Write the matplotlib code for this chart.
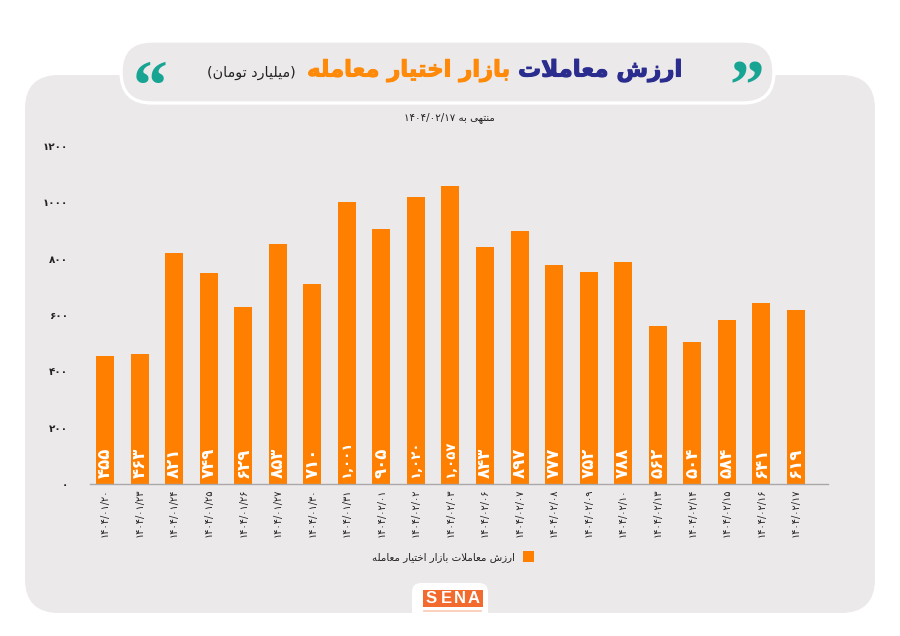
import matplotlib
matplotlib.use("Agg")
import matplotlib.pyplot as plt
import matplotlib.patheffects as pe
from matplotlib.patches import FancyBboxPatch, Rectangle

# Chart data
dates = ["1404/01/20", "1404/01/23", "1404/01/24", "1404/01/25", "1404/01/26", "1404/01/27", "1404/01/30",
         "1404/01/31", "1404/02/01", "1404/02/02", "1404/02/03", "1404/02/06", "1404/02/07", "1404/02/08",
         "1404/02/09", "1404/02/10", "1404/02/13", "1404/02/14", "1404/02/15", "1404/02/16", "1404/02/17"]
values = [455, 463, 821, 749, 629, 853, 710, 1001, 905, 1020, 1057, 843, 897, 777, 752, 788, 562, 504, 584, 641, 619]
y_ticks = [0, 200, 400, 600, 800, 1000, 1200]

title_navy = "ارزش معاملات"
title_orange = "بازار اختیار معامله"
title_unit = "(میلیارد تومان)"
subtitle_prefix = "منتهی به"
subtitle_date = "1404/02/17"
legend_label = "ارزش معاملات بازار اختیار معامله"

ORANGE = "#ff8000"
TITLE_ORANGE = "#ff8a0a"
NAVY = "#2b2d8e"
TEAL = "#17a493"
PANEL = "#ebe9ea"
INK = "#222222"

# Contextual forms: isolated, final, initial, medial
FORMS = {
    "ا": "\uFE8D\uFE8E", "ب": "\uFE8F\uFE90\uFE91\uFE92", "ت": "\uFE95\uFE96\uFE97\uFE98",
    "خ": "\uFEA5\uFEA6\uFEA7\uFEA8", "د": "\uFEA9\uFEAA", "ر": "\uFEAD\uFEAE", "ز": "\uFEAF\uFEB0",
    "ش": "\uFEB5\uFEB6\uFEB7\uFEB8", "ع": "\uFEC9\uFECA\uFECB\uFECC", "ل": "\uFEDD\uFEDE\uFEDF\uFEE0",
    "م": "\uFEE1\uFEE2\uFEE3\uFEE4", "ن": "\uFEE5\uFEE6\uFEE7\uFEE8", "ه": "\uFEE9\uFEEA\uFEEB\uFEEC",
    "و": "\uFEED\uFEEE", "ی": "\uFBFC\uFBFD\uFBFE\uFBFF",
}
MIRROR = {"(": ")", ")": "("}
PERSIAN_DIGITS = str.maketrans("0123456789", "۰۱۲۳۴۵۶۷۸۹")


def fa(n):
    return str(n).translate(PERSIAN_DIGITS)


def shape(text):
    # Matplotlib has no Arabic shaping, so build the visual-order string by hand.
    text = text.replace("لا", "\uE000")
    out = []
    for i, ch in enumerate(text):
        prev_ch = text[i - 1] if i else ""
        next_ch = text[i + 1] if i + 1 < len(text) else ""
        joins_prev = prev_ch in FORMS and len(FORMS[prev_ch]) == 4
        joins_next = next_ch in FORMS or next_ch == "\uE000"
        if ch == "\uE000":
            out.append("\uFEFC" if joins_prev else "\uFEFB")
        elif ch in FORMS:
            forms = FORMS[ch]
            if len(forms) == 2:
                out.append(forms[1] if joins_prev else forms[0])
            elif joins_prev and joins_next:
                out.append(forms[3])
            elif joins_prev:
                out.append(forms[1])
            elif joins_next:
                out.append(forms[2])
            else:
                out.append(forms[0])
        else:
            out.append(MIRROR.get(ch, ch))
    return "".join(reversed(out))


plt.rcParams["font.family"] = ["DejaVu Sans"]
fig = plt.figure(figsize=(9, 6.36), dpi=100, facecolor="white")

# Page furniture drawn in pixel coordinates
bg = fig.add_axes([0, 0, 1, 1], zorder=0)
bg.set_xlim(0, 900)
bg.set_ylim(636, 0)
bg.axis("off")


def rounded(x0, y0, x1, y1, r, **kw):
    bg.add_patch(FancyBboxPatch((x0 + r, y0 + r), x1 - x0 - 2 * r, y1 - y0 - 2 * r,
                                boxstyle=f"round,pad={r},rounding_size={r}", **kw))


rounded(25, 75, 875, 613, 34, fc=PANEL, ec="none")
rounded(121, 41, 774, 103, 31, fc=PANEL, ec="white", lw=2.4)

# Two-colour heading with a slightly heavier stroke, then the unit in plain weight
bg.text(682, 71, shape(title_navy), color=NAVY, fontsize=16.5, fontweight="bold", ha="right", va="center",
        path_effects=[pe.withStroke(linewidth=0.8, foreground=NAVY)])
bg.text(510, 71, shape(title_orange), color=TITLE_ORANGE, fontsize=16.3, fontweight="bold", ha="right", va="center",
        path_effects=[pe.withStroke(linewidth=0.8, foreground=TITLE_ORANGE)])
bg.text(296, 73, shape(title_unit), color=INK, fontsize=10.4, ha="right", va="center")
bg.text(747, 91, "\u201D", color=TEAL, fontsize=50, fontweight="bold", ha="center", va="center", family="Liberation Serif")
bg.text(150, 91, "\u201C", color=TEAL, fontsize=50, fontweight="bold", ha="center", va="center", family="Liberation Serif")
bg.text(449, 118, fa(subtitle_date) + " " + shape(subtitle_prefix), color=INK, fontsize=7.4, ha="center", va="center")

# Logo plate
rounded(412, 583, 488, 630, 9, fc="white", ec="none")
bg.add_patch(Rectangle((422.5, 590), 60, 17, fc="#f26a2e", ec="none"))
for cx, letter in zip([431, 446, 460, 474], "SENA"):
    bg.text(cx, 598.5, letter, color="white", fontsize=12, fontweight="bold", ha="center", va="center",
            family="Liberation Sans")
bg.plot([424, 481], [611, 611], color="#f7c9b0", lw=1.2)

# Bar chart
ax = fig.add_axes([90 / 900, 1 - 484 / 636, 738 / 900, (484 - 146) / 636], zorder=1)
ax.patch.set_alpha(0)
x = list(range(len(values)))
bars = ax.bar(x, values, width=0.52, color=ORANGE, label=shape(legend_label), zorder=2)
ax.set_xlim(-0.434, 20.93)
ax.set_ylim(0, 1200)

for spine in ("top", "left", "right"):
    ax.spines[spine].set_visible(False)
ax.spines["bottom"].set_color("#a9a7a8")
ax.spines["bottom"].set_linewidth(1)

ax.set_xticks(x)
ax.set_xticklabels([fa(d) for d in dates], rotation=90, fontsize=7, color=INK)
ax.set_yticks(y_ticks)
ax.set_yticklabels([fa(v) for v in y_ticks], fontsize=7.5, fontweight="bold", color=INK)
ax.tick_params(axis="x", length=0, pad=3)
ax.tick_params(axis="y", length=0, pad=16)

# Values run up from the bar base; the four-digit ones are set smaller to stay compact
for xi, v in zip(x, values):
    ax.text(xi, 20, fa(f"{v:,}"), rotation=90, color="white", fontsize=12 if v < 1000 else 9.5, fontweight="bold",
            ha="center", va="bottom", zorder=3)

ax.legend(loc="upper center", bbox_to_anchor=(0.4915, -0.17), frameon=False, fontsize=7.4, markerfirst=False,
          handlelength=1.07, handleheight=1.28, handletextpad=0.8, labelcolor=INK)

fig.savefig("out.png", dpi=100)
